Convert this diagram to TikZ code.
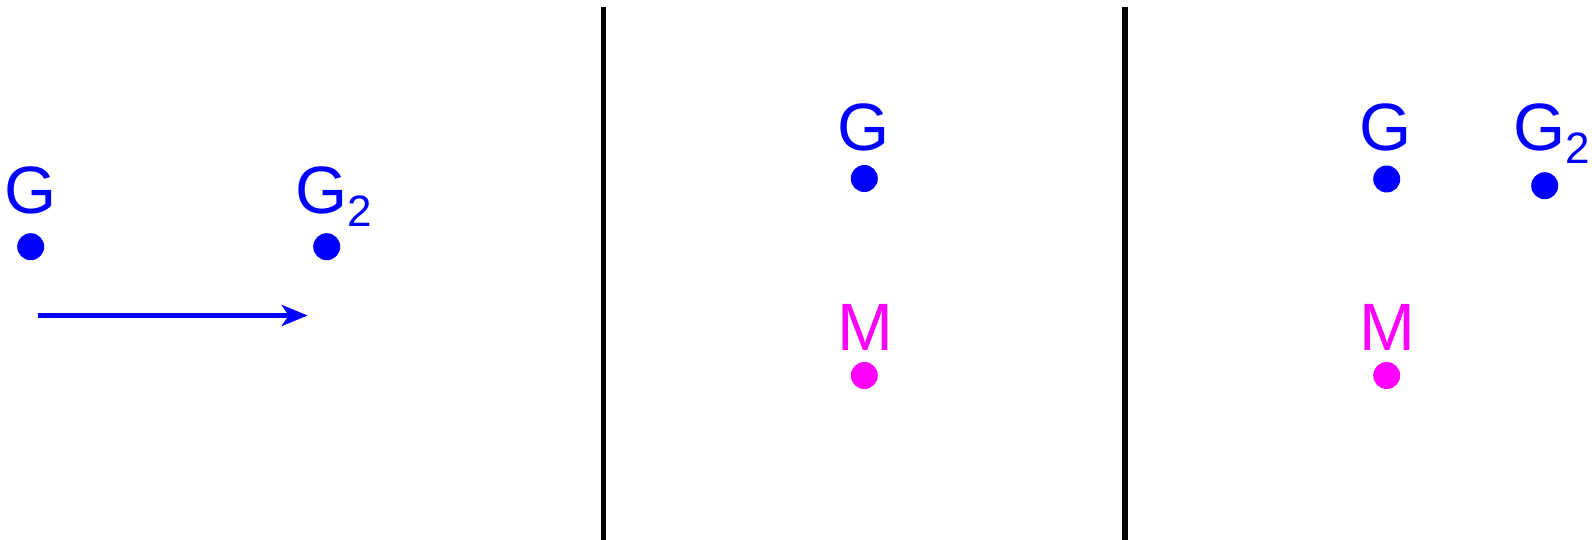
\documentclass[tikz,border=0pt]{standalone}
\usepackage{fontspec}
\setmainfont{Liberation Sans}
\usetikzlibrary{arrows.meta}
\definecolor{myblue}{RGB}{0,0,255}
\definecolor{mymag}{RGB}{255,0,255}
\tikzset{
  dotb/.style={circle,fill=myblue,draw=none,minimum size=27pt,inner sep=0pt},
  dotm/.style={circle,fill=mymag,draw=none,minimum size=27pt,inner sep=0pt},
  lbl/.style={inner sep=0pt,font=\fontsize{67}{70}\selectfont},
  sepline/.style={line width=5.5pt,black},
  arr/.style={line width=5.5pt,myblue,-{Stealth[length=26pt,width=21pt,inset=7pt]}}
}
\newcommand{\subtwo}{\raisebox{-13pt}{\fontsize{44}{46}\selectfont 2}}
\begin{document}
\begin{tikzpicture}[x=1pt,y=-1pt]
\useasboundingbox (0,0) rectangle (1592,540);
% left panel
\node[dotb] (g1) at (30.7,246.7) {};
\node[dotb] (g2) at (326.7,246.7) {};
\node[lbl,text=myblue,anchor=base] (lg1) at (30.5,213.5) {G};
\node[lbl,text=myblue,anchor=base west] (lg2) at (294.8,213.5) {G\subtwo};
\coordinate (a1) at (37.7,315.5);
\coordinate (a2) at (307.7,315.5);
\draw[arr] (a1) -- (a2);
% separators
\coordinate (s1t) at (603.5,7);
\coordinate (s1b) at (603.5,540);
\coordinate (s2t) at (1125,7);
\coordinate (s2b) at (1125,540);
\draw[sepline] (s1t) -- (s1b);
\draw[sepline] (s2t) -- (s2b);
% middle panel
\node[dotb] (g3) at (864.3,178.5) {};
\node[dotm] (m1) at (864.3,375.5) {};
\node[lbl,text=myblue,anchor=base] (lg3) at (864,150.7) {G};
\node[lbl,text=mymag,anchor=base] (lm1) at (865.5,350.7) {M};
% right panel
\node[dotb] (g4) at (1386.7,179) {};
\node[dotb] (g5) at (1544.7,185.7) {};
\node[dotm] (m2) at (1386.7,375.5) {};
\node[lbl,text=myblue,anchor=base] (lg4) at (1385.3,150.7) {G};
\node[lbl,text=myblue,anchor=base west] (lg5) at (1513.4,150.7) {G\subtwo};
\node[lbl,text=mymag,anchor=base] (lm2) at (1387,350.7) {M};
\end{tikzpicture}
\end{document}
